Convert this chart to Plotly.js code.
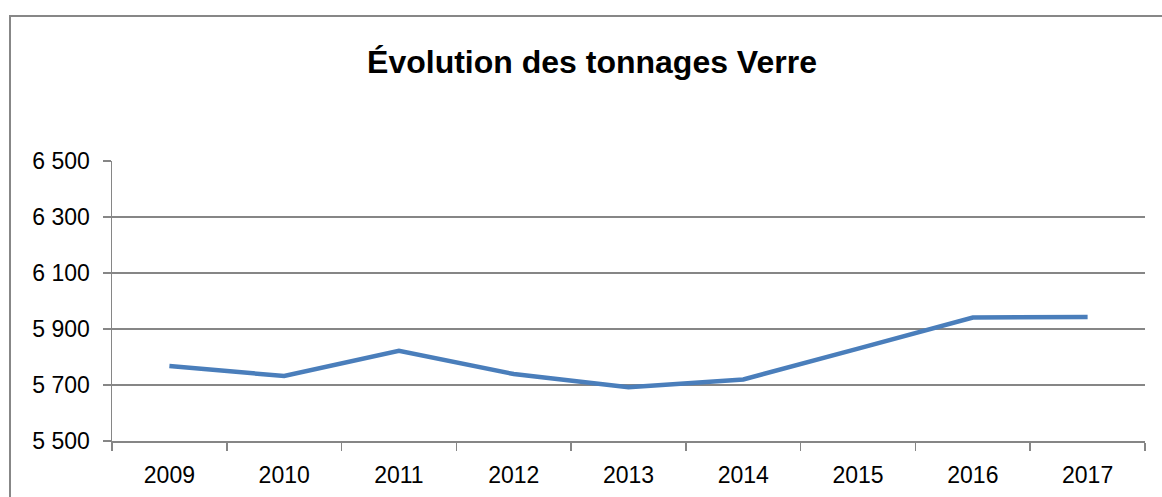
<!DOCTYPE html>
<html><head><meta charset="utf-8">
<script src="https://cdn.plot.ly/plotly-3.0.1.min.js"></script>
<style>html,body{margin:0;padding:0;background:#fff;}#chart{width:1162px;height:497px;}</style>
</head><body><div id="chart"></div>
<script>
const years = ['2009','2010','2011','2012','2013','2014','2015','2016','2017'];
const tonnages = [5768, 5732, 5822, 5739, 5692, 5720, 5830, 5941, 5943];
const yTickVals = [5500, 5700, 5900, 6100, 6300, 6500];
const yTickText = ['5 500', '5 700', '5 900', '6 100', '6 300', '6 500'];
const chartTitle = 'Évolution des tonnages Verre';

const trace = {
  x: years, y: tonnages, type: 'scatter', mode: 'lines',
  line: {color: '#4a7ebb', width: 4.5},
  hoverinfo: 'skip'
};
const layout = {
  width: 1162, height: 497,
  margin: {l: 112, r: 17, t: 161, b: 56},
  paper_bgcolor: '#fff', plot_bgcolor: '#fff',
  showlegend: false,
  title: {text: '<b>' + chartTitle + '</b>', x: 592 / 1162, xanchor: 'center', xref: 'container',
    y: 0.875, yanchor: 'middle',
    font: {family: 'Liberation Sans, Arial, sans-serif', size: 32, color: '#000'}},
  xaxis: {
    type: 'category', range: [-0.5, 8.5], tickson: 'boundaries',
    ticks: 'outside', ticklen: 8, tickcolor: '#868686', tickwidth: 1.5,
    showline: true, linecolor: '#868686', linewidth: 1.5,
    showgrid: false, zeroline: false,
    tickfont: {family: 'Liberation Sans, Arial, sans-serif', size: 23, color: '#000'},
    ticklabelstandoff: 13,
    fixedrange: true
  },
  yaxis: {
    range: [5500, 6500], tickvals: yTickVals, ticktext: yTickText,
    ticks: 'outside', ticklen: 8, tickcolor: '#868686', tickwidth: 1.5,
    showline: true, linecolor: '#868686', linewidth: 1.5,
    showgrid: true, gridcolor: '#868686', gridwidth: 1.5, zeroline: false,
    tickfont: {family: 'Liberation Sans, Arial, sans-serif', size: 23, color: '#000'},
    ticklabelstandoff: 8,
    fixedrange: true
  },
  shapes: [{
    type: 'rect', xref: 'paper', yref: 'paper',
    x0: (10 - 112) / 1033, x1: 1.2, y0: -0.5, y1: (441 - 16) / 280,
    line: {color: '#878787', width: 2}, fillcolor: 'rgba(0,0,0,0)', layer: 'below'
  }]
};
Plotly.newPlot('chart', [trace], layout, {displayModeBar: false, staticPlot: true});
</script></body></html>
